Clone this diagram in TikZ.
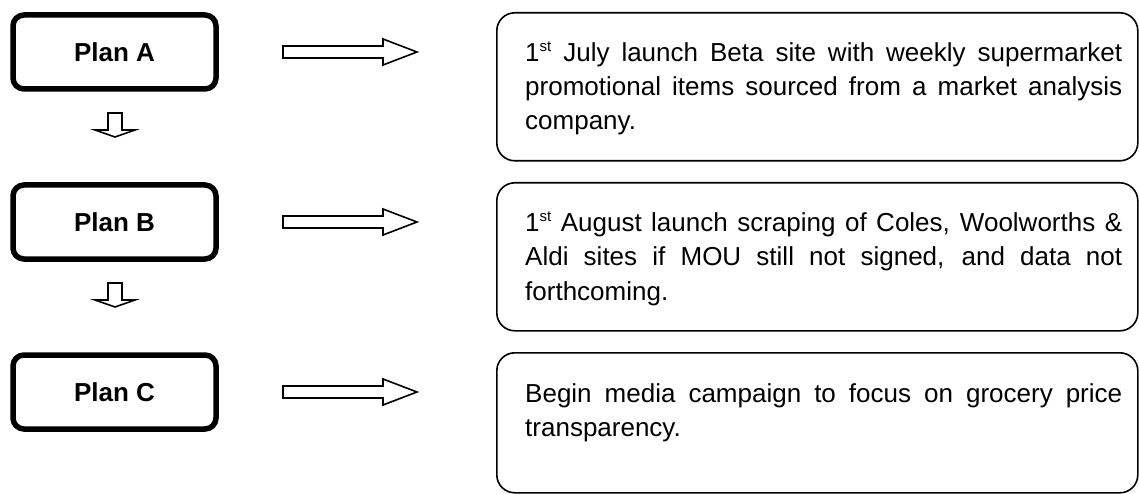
\documentclass[tikz,border=0pt]{standalone}
\usepackage{fontspec}
\setmainfont{Liberation Sans}
\tikzset{
  plan/.style={draw, line width=5.5pt, rounded corners=11pt,
    minimum width=203pt, minimum height=74pt, inner sep=0pt,
    font=\fontsize{26}{30}\selectfont\bfseries},
  notebox/.style={draw, line width=1.6pt, rounded corners=18pt,
    minimum width=641pt, anchor=north west, inner sep=0pt},
  notetext/.style={anchor=base west, inner sep=0pt,
    font=\fontsize{26}{34}\selectfont},
  blockarrow/.style={draw, line width=1.6pt, fill=white, line join=miter},
  rarrow/.pic={\draw[blockarrow] (0,-6) -- (100,-6) -- (100,-13) -- (134,0)
      -- (100,13) -- (100,6) -- (0,6) -- cycle;},
  darrow/.pic={\draw[blockarrow] (-7,0) -- (7,0) -- (7,17) -- (20,17)
      -- (0,24) -- (-20,17) -- (-7,17) -- cycle;}
}
\newcommand{\notepar}[1]{\parbox[t]{597pt}{\hyphenpenalty=10000 #1}}
\newcommand{\ordsup}[1]{\raisebox{0.42em}{\fontsize{15}{15}\selectfont #1}}
\begin{document}
\begin{tikzpicture}[x=1pt, y=-1pt]
  \useasboundingbox (0,0) rectangle (1139,494);

  % plan boxes, one row every 170pt
  \node[plan] (pa) at (114.5,52)  {Plan A};
  \node[plan] (pb) at (114.5,222) {Plan B};
  \node[plan] (pc) at (114.5,392) {Plan C};

  % hollow arrows between the plans
  \pic at (115,113) {darrow};
  \pic at (115,283) {darrow};

  % hollow arrows towards the notes
  \pic at (283,52)  {rarrow};
  \pic at (283,222) {rarrow};
  \pic at (283,392) {rarrow};

  % notes
  \node[notebox, minimum height=148pt] (na) at (496,12)  {};
  \node[notebox, minimum height=148pt] (nb) at (496,182) {};
  \node[notebox, minimum height=140pt] (nc) at (496,352) {};

  \node[notetext] (ta) at (525,62) {\notepar{1\ordsup{st} July launch Beta site with weekly supermarket\linebreak
    promotional items sourced from a market analysis\linebreak
    company.}};
  \node[notetext] (tb) at (525,232) {\notepar{1\ordsup{st} August launch scraping of Coles, Woolworths \&\linebreak
    Aldi sites if MOU still not signed, and data not\linebreak
    forthcoming.}};
  \node[notetext] (tc) at (525,402) {\notepar{Begin media campaign to focus on grocery price\linebreak
    transparency.}};
\end{tikzpicture}
\end{document}
